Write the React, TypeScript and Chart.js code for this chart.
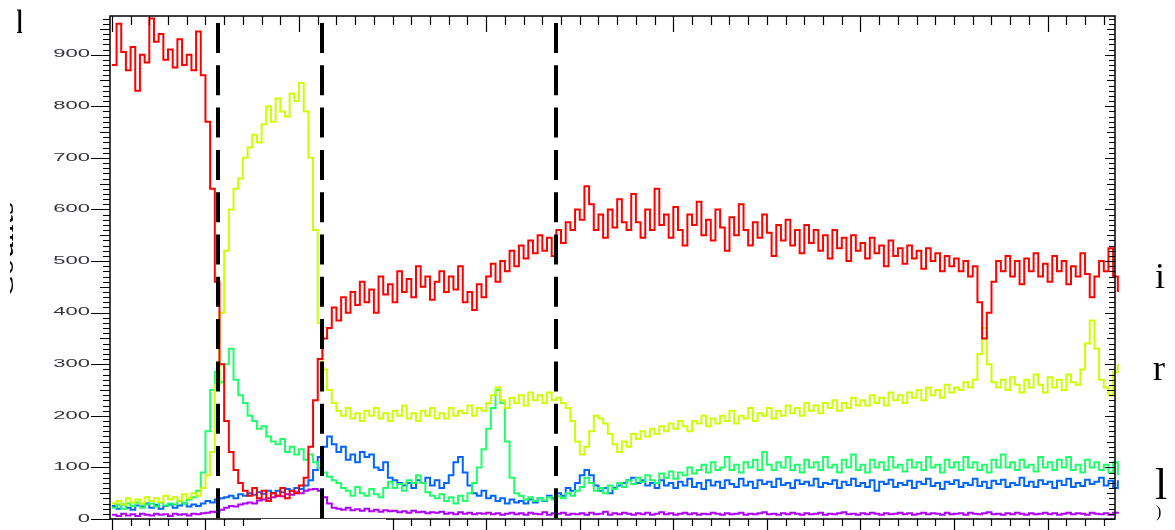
import React, { useEffect, useRef } from "react";
import { Chart, registerables } from "chart.js";

Chart.register(...registerables);

// sampling of the traces (time units, one sample every SAMPLE_STEP)
const SAMPLE_STEP = 0.5;
const X_MIN = -0.2;
const X_MAX = 107.2;
const Y_MIN = 0;
const Y_MAX = 975;
const Y_TICKS = [0, 100, 200, 300, 400, 500, 600, 700, 800, 900];
const DIVIDERS = [11.3, 22.5, 47.5];

const RED = [
  880, 960, 905, 870, 915, 830, 900, 885, 970, 925,
  940, 890, 910, 875, 930, 880, 900, 870, 945, 860,
  770, 640, 460, 300, 190, 130, 95, 70, 55, 45,
  60, 40, 55, 35, 50, 45, 60, 40, 55, 50,
  65, 80, 140, 230, 310, 350, 370, 410, 385, 430,
  400, 440, 415, 460, 420, 445, 400, 470, 435, 455,
  420, 480, 440, 465, 430, 490, 450, 470, 425, 460,
  480, 440, 470, 445, 490, 420, 440, 405, 455, 430,
  470, 495, 460, 500, 480, 520, 490, 530, 505, 540,
  515, 550, 520, 545, 510, 560, 535, 575, 560, 600,
  580, 645, 610, 560, 590, 545, 600, 565, 620, 575,
  560, 630, 575, 545, 600, 560, 640, 570, 590, 545,
  605, 560, 530, 590, 570, 615, 550, 580, 540, 600,
  565, 520, 585, 550, 610, 560, 530, 575, 545, 590,
  555, 510, 570, 540, 580, 530, 560, 515, 570, 535,
  560, 520, 550, 505, 560, 525, 545, 500, 550, 520,
  535, 505, 545, 515, 530, 490, 540, 510, 525, 495,
  530, 505, 520, 485, 525, 500, 515, 480, 510, 490,
  505, 480, 500, 470, 490, 420, 350, 400, 460, 500,
  480, 510, 470, 500, 455, 505, 480, 515, 470, 495,
  460, 510, 480, 500, 455, 490, 470, 515, 475, 430,
  470, 500, 480, 525, 470, 440, 450,
];

const YELLOW = [
  30, 35, 28, 40, 32, 38, 30, 42, 35, 40,
  33, 45, 38, 42, 36, 48, 40, 50, 45, 60,
  85, 130, 260, 400, 520, 600, 640, 660, 700, 720,
  745, 730, 765, 800, 770, 815, 790, 780, 825, 810,
  845, 790, 700, 560, 380, 290, 250, 225, 210, 200,
  215, 195, 205, 190, 210, 200, 215, 195, 205, 190,
  210, 200, 220, 195, 205, 190, 210, 200, 215, 195,
  205, 195, 215, 200, 210, 205, 220, 200, 215, 210,
  225, 240, 255, 230, 215, 235, 225, 240, 220, 245,
  230, 240, 225, 245, 230, 235, 225, 215, 190, 150,
  125, 140, 170, 200, 195, 185, 165, 145, 130, 150,
  140, 165, 155, 170, 160, 175, 165, 180, 170, 185,
  175, 190, 180, 170, 190, 185, 200, 180, 195, 185,
  200, 190, 210, 185, 200, 195, 215, 190, 205, 200,
  215, 195, 210, 200, 220, 205, 215, 200, 225, 210,
  220, 205, 225, 215, 230, 210, 225, 215, 235, 220,
  230, 220, 240, 225, 235, 220, 245, 230, 240, 225,
  245, 235, 250, 230, 255, 240, 250, 235, 260, 245,
  255, 250, 265, 255, 270, 320, 370, 300, 265, 255,
  270, 250, 275, 260, 245, 270, 255, 280, 260, 245,
  275, 255, 270, 250, 280, 265, 260, 290, 340, 385,
  330, 270, 255, 240, 285, 300, 290,
];

const GREEN = [
  22, 28, 20, 30, 25, 32, 22, 28, 30, 24,
  32, 26, 30, 28, 35, 30, 38, 42, 55, 90,
  170, 250, 285, 265, 300, 330, 270, 240, 225, 200,
  190, 175, 180, 160, 150, 145, 155, 130, 140, 125,
  135, 115, 125, 110, 100, 90, 82, 75, 70, 60,
  55, 45, 62, 50, 45, 58, 48, 42, 60, 72,
  60, 68, 55, 75, 70, 85, 70, 52, 45, 40,
  48, 35, 42, 30, 45, 35, 50, 70, 100, 135,
  175, 215, 250, 225, 150, 80, 50, 45, 38, 42,
  35, 40, 36, 42, 38, 44, 40, 50, 45, 55,
  62, 80, 70, 55, 60, 50, 65, 58, 70, 62,
  75, 68, 80, 72, 85, 75, 70, 88, 80, 92,
  78, 90, 85, 100, 88, 95, 105, 90, 110, 95,
  100, 120, 95, 105, 90, 110, 100, 115, 95, 130,
  105, 95, 110, 100, 120, 95, 105, 90, 115, 100,
  110, 95, 120, 100, 105, 90, 115, 100, 125, 95,
  105, 90, 115, 100, 110, 95, 120, 100, 105, 92,
  115, 100, 110, 95, 120, 100, 105, 90, 115, 100,
  110, 95, 120, 100, 110, 95, 105, 90, 115, 100,
  125, 100, 110, 95, 115, 100, 105, 92, 120, 100,
  110, 95, 115, 100, 120, 95, 105, 90, 115, 100,
  110, 95, 105, 90, 110, 85, 95,
];

const BLUE = [
  25, 20, 28, 22, 18, 26, 24, 30, 22, 27,
  20, 25, 28, 22, 26, 30, 24, 28, 25, 30,
  35, 32, 38, 40, 42, 45, 40, 48, 45, 50,
  47, 52, 49, 55, 50, 55, 52, 58, 55, 60,
  58, 65, 75, 95, 120, 140, 160, 145, 130, 140,
  115, 125, 110, 130, 120, 125, 100, 95, 110, 80,
  75, 70, 65, 70, 60, 75, 70, 80, 65, 75,
  60, 70, 85, 110, 120, 90, 65, 50, 45, 55,
  40, 45, 35, 40, 30, 38, 32, 35, 30, 38,
  32, 40, 35, 45, 40, 50, 45, 60, 55, 70,
  85, 95, 85, 65, 55, 60, 50, 60, 65, 70,
  75, 80, 70, 75, 65, 70, 60, 75, 65, 70,
  60, 72, 65, 78, 62, 70, 58, 75, 65, 72,
  60, 75, 68, 62, 78, 65, 72, 60, 75, 68,
  72, 62, 78, 66, 70, 60, 75, 68, 72, 65,
  78, 62, 70, 68, 75, 60, 72, 66, 78, 64,
  70, 62, 75, 55, 72, 68, 76, 62, 70, 66,
  74, 60, 72, 68, 78, 64, 70, 58, 72, 68,
  75, 62, 70, 66, 78, 64, 72, 60, 74, 68,
  76, 62, 70, 66, 80, 64, 72, 62, 75, 68,
  72, 60, 74, 66, 78, 62, 70, 64, 76, 68,
  72, 80, 65, 74, 60, 75, 55,
];

const PURPLE = [
  8, 6, 10, 7, 9, 6, 10, 8, 7, 10,
  8, 9, 6, 10, 8, 9, 7, 10, 9, 11,
  12, 14, 13, 18, 22, 25, 24, 28, 30, 32,
  30, 36, 38, 40, 42, 45, 44, 48, 47, 52,
  50, 55, 57, 58, 55, 42, 30, 22, 20, 18,
  22, 17, 19, 16, 20, 15, 18, 14, 17, 15,
  16, 13, 15, 12, 16, 13, 14, 11, 13, 12,
  14, 10, 12, 9, 13, 10, 12, 9, 11, 10,
  12, 9, 11, 8, 10, 12, 9, 11, 8, 12,
  10, 9, 13, 8, 11, 10, 12, 8, 10, 9,
  11, 8, 12, 9, 10, 14, 8, 11, 9, 12,
  10, 8, 11, 9, 12, 8, 10, 13, 9, 11,
  8, 10, 12, 9, 11, 8, 10, 9, 12, 10,
  8, 11, 9, 10, 12, 8, 10, 9, 11, 13,
  9, 10, 8, 11, 9, 12, 10, 8, 11, 9,
  10, 12, 8, 10, 9, 11, 13, 9, 10, 8,
  11, 9, 12, 10, 8, 11, 9, 10, 12, 9,
  11, 8, 10, 12, 9, 11, 10, 8, 12, 9,
  10, 11, 8, 12, 10, 9, 11, 13, 9, 10,
  8, 11, 9, 12, 10, 8, 11, 9, 10, 12,
  9, 11, 8, 10, 12, 9, 11, 10, 8, 12,
  10, 9, 11, 8, 12, 10, 9,
];

const SERIES = [
  { name: "red", values: RED, color: "#ff0000" },
  { name: "yellow", values: YELLOW, color: "#ccff00" },
  { name: "green", values: GREEN, color: "#1fff6a" },
  { name: "blue", values: BLUE, color: "#0064ff" },
  { name: "purple", values: PURPLE, color: "#b000ff" },
];

const framePlugin = {
  id: "frame",
  afterDatasetsDraw(chart: any) {
    const { ctx, chartArea: a, scales } = chart;
    const xs = scales.x;
    ctx.save();
    ctx.strokeStyle = "#000";
    ctx.lineWidth = 4;
    ctx.setLineDash([30, 12.3]);
    DIVIDERS.forEach((v) => {
      const px = Math.round(xs.getPixelForValue(v));
      ctx.beginPath();
      ctx.moveTo(px, a.top + 7);
      ctx.lineTo(px, a.bottom);
      ctx.stroke();
    });
    ctx.restore();
  },
  afterDraw(chart: any) {
    const { ctx, chartArea: a, scales } = chart;
    const xs = scales.x;
    const ys = scales.y;
    ctx.save();
    ctx.strokeStyle = "#000";
    ctx.lineWidth = 1.5;
    ctx.beginPath();
    ctx.rect(a.left, a.top, a.right - a.left, a.bottom - a.top);
    ctx.stroke();
    ctx.lineWidth = 1.2;
    // y ticks (left outward, right inward)
    for (let v = 0; v <= Y_MAX; v += 10) {
      const y = Math.round(ys.getPixelForValue(v)) + 0.5;
      const major = v % 100 === 0;
      const half = v % 50 === 0;
      const lenL = major ? 19 : half ? 10 : 7;
      const lenR = major ? 10 : half ? 8 : 6;
      ctx.beginPath();
      ctx.moveTo(a.left - lenL, y);
      ctx.lineTo(a.left, y);
      ctx.moveTo(a.right, y);
      ctx.lineTo(a.right - lenR, y);
      ctx.stroke();
    }
    // x ticks (top inward, bottom outward)
    for (let u = 0; u <= X_MAX; u += 2) {
      const x = Math.round(xs.getPixelForValue(u)) + 0.5;
      const major = u % 10 === 0;
      const topLen = u % 20 === 0 ? 16 : 9;
      const botLen = major ? 12 : 7;
      ctx.beginPath();
      ctx.moveTo(x, a.top);
      ctx.lineTo(x, a.top + topLen);
      ctx.moveTo(x, a.bottom);
      ctx.lineTo(x, a.bottom + botLen);
      ctx.stroke();
    }
    // gap in the lower axis
    ctx.fillStyle = "#fff";
    ctx.fillRect(261, a.bottom, 125, chart.height - a.bottom);
    // y tick labels (wide lettering)
    ctx.fillStyle = "#33333d";
    ctx.font = "10px 'Liberation Sans', Arial, sans-serif";
    ctx.textAlign = "right";
    ctx.textBaseline = "middle";
    Y_TICKS.forEach((v) => {
      const y = ys.getPixelForValue(v);
      ctx.save();
      ctx.translate(a.left - 20, y);
      ctx.scale(2.2, 1);
      ctx.fillText(String(v), 0, 0);
      ctx.restore();
    });
    ctx.restore();
  },
};

export default function App() {
  const ref = useRef<HTMLCanvasElement | null>(null);

  useEffect(() => {
    if (!ref.current) return;
    const chart = new Chart(ref.current, {
      type: "line",
      data: {
        datasets: SERIES.map((s) => ({
          label: s.name,
          data: s.values.map((y, i) => ({ x: i * SAMPLE_STEP, y })),
          borderColor: s.color,
          backgroundColor: s.color,
          borderWidth: 2,
          pointRadius: 0,
          stepped: true,
          fill: false,
          clip: false as any,
        })),
      },
      options: {
        animation: false,
        responsive: false,
        devicePixelRatio: 1,
        layout: { padding: { left: 110, top: 16, right: 60, bottom: 11 } },
        plugins: { legend: { display: false }, tooltip: { enabled: false } },
        scales: {
          x: { type: "linear", min: X_MIN, max: X_MAX, display: false },
          y: { type: "linear", min: Y_MIN, max: Y_MAX, display: false },
        },
      },
      plugins: [framePlugin],
    });
    return () => chart.destroy();
  }, []);

  const serif = "'Liberation Serif', 'Times New Roman', serif";
  return (
    <div
      style={{
        position: "fixed",
        left: 0,
        top: 0,
        width: 1175,
        height: 530,
        background: "#fff",
        overflow: "hidden",
      }}
    >
      <canvas ref={ref} width={1175} height={530} style={{ display: "block" }} />
      <div
        style={{
          position: "absolute",
          left: 17,
          top: 8,
          width: 5,
          height: 27,
          overflow: "hidden",
        }}
      >
        <div
          style={{
            position: "absolute",
            left: -2,
            top: -3,
            font: `34px ${serif}`,
            lineHeight: "34px",
            color: "#000",
          }}
        >
          l
        </div>
      </div>
      <div
        style={{
          position: "absolute",
          left: 10,
          top: 0,
          width: 10,
          height: 530,
          overflow: "hidden",
        }}
      >
        <div
          style={{
            position: "absolute",
            left: 3 - 10 - 100,
            top: 230,
            width: 200,
            height: 40,
            lineHeight: "40px",
            textAlign: "center",
            font: `34px ${serif}`,
            color: "#000",
            transform: "rotate(-90deg)",
            whiteSpace: "nowrap",
          }}
        >
          Counts
        </div>
      </div>
      <div style={{ position: "absolute", left: 1155, top: 258, font: `36px ${serif}`, lineHeight: "36px", color: "#000" }}>i</div>
      <div style={{ position: "absolute", left: 1153, top: 350, font: `36px ${serif}`, lineHeight: "36px", color: "#000" }}>r</div>
      <div style={{ position: "absolute", left: 1155, top: 463, font: `44px ${serif}`, lineHeight: "44px", color: "#000" }}>l</div>
      <div style={{ position: "absolute", left: 1156, top: 504, font: `16px ${serif}`, lineHeight: "16px", color: "#000" }}>)</div>
    </div>
  );
}
